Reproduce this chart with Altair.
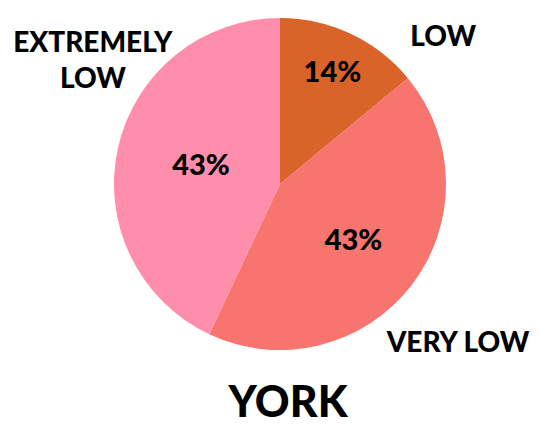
import altair as alt
import pandas as pd

categories = ["LOW", "VERY LOW", "EXTREMELY LOW"]
values = [14, 43, 43]
pct_labels = ["14%", "43%", "43%"]
outer_labels = ["LOW", "VERY LOW", "EXTREMELY\nLOW"]
colors = ["#DA6329", "#F8746F", "#FE8EAB"]
city = "YORK"

df = pd.DataFrame({
    "category": categories,
    "value": values,
    "pct": pct_labels,
    "outer": outer_labels,
    "order": list(range(len(categories))),
})

CX, CY, R = 272, 176, 166
FONT = "Lato"
TOTAL = sum(values)
theta_scale = alt.Scale(domain=[0, TOTAL])

pie = alt.Chart(df).mark_arc(outerRadius=R, x=CX, y=CY).encode(
    theta=alt.Theta("value:Q", stack=True, scale=theta_scale),
    order=alt.Order("order:Q"),
    color=alt.Color("category:N", scale=alt.Scale(domain=categories, range=colors), legend=None),
)

stacked = alt.Chart(df).transform_stack(
    stack="value", groupby=[], as_=["s0", "s1"], sort=[alt.SortField("order", order="ascending")]
).transform_calculate(mid="(datum.s0 + datum.s1) / 2")

layers = [pie]
inner_r = {"LOW": 123, "VERY LOW": 93, "EXTREMELY LOW": 81}
outer_off = {"LOW": (78, 35), "VERY LOW": (20, 37), "EXTREMELY LOW": (8, -96)}
for cat in categories:
    sub = stacked.transform_filter(alt.datum.category == cat)
    layers.append(
        sub.mark_text(radius=inner_r[cat], x=CX, y=CY, font=FONT, fontWeight=900,
                      fontSize=29, color="#000000", baseline="middle", align="center")
        .encode(theta=alt.Theta("mid:Q", stack=None, scale=theta_scale), text="pct:N")
    )
    dx, dy = outer_off[cat]
    layers.append(
        sub.mark_text(radius=200, x=CX, y=CY, dx=dx, dy=dy, font=FONT, fontWeight=900,
                      fontSize=28, color="#000000", baseline="middle", align="center",
                      lineBreak="\n", lineHeight=36)
        .encode(theta=alt.Theta("mid:Q", stack=None, scale=theta_scale), text="outer:N")
    )

title = alt.Chart(pd.DataFrame({"t": [city]})).mark_text(
    font=FONT, fontWeight=900, fontSize=43, color="#000000",
    align="center", baseline="alphabetic"
).encode(x=alt.value(280), y=alt.value(409), text="t:N")
layers.append(title)

chart = alt.layer(*layers).properties(
    width=523, height=410, padding=0, autosize=alt.AutoSizeParams(type="none")
).configure_view(stroke=None)

chart.save("out.html", embed_options={"renderer": "svg", "actions": False})
